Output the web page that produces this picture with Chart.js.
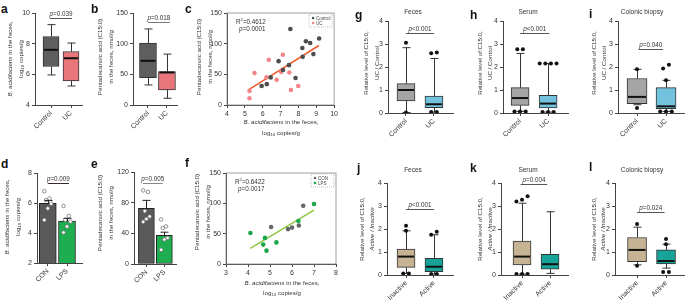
<!DOCTYPE html>
<html>
<head>
<meta charset="utf-8">
<script src="https://cdn.jsdelivr.net/npm/chart.js@4.4.1/dist/chart.umd.min.js"></script>
<style>
  body { margin: 0; background: #fff; width: 685px; height: 302px; position: relative; overflow: hidden;
         font-family: 'Liberation Sans', Arial, sans-serif; color: #333; }
  sub { font-size: 70%; vertical-align: -1px; }
</style>
</head>
<body>
<script>
// ---- data ----
const groupsUC = ['Control', 'UC'];
const groupsLPS = ['CON', 'LPS'];
const groupsAct = ['Inactive', 'Active'];

// box plots: [min, q1, median, q3, max]
const aControl = [5.96, 6.51, 7.6, 8.47, 9.24];
const aUC = [5.24, 5.57, 7.05, 7.49, 8.04];
const bControl = [32.7, 44.7, 72, 101, 124];
const bUC = [11, 24.5, 53, 54.5, 83];

const gControl = [0.02, 0.53, 1.0, 1.28, 2.84];
const gUC = [0.04, 0.23, 0.38, 0.74, 2.37];
const gControlOut = [3.05, 0.02];
const gUCOut = [2.6, 2.63, 0.04, 0.04];

const hControl = [0.07, 0.33, 0.65, 1.1, 2.59];
const hUC = [0.04, 0.22, 0.41, 0.77, 2.15];
const hControlOut = [2.77, 2.77, 0.07, 0.07, 0.07];
const hUCOut = [2.15, 2.15, 2.15, 2.15, 0.04, 0.04, 0.04];

const iControl = [0.36, 0.41, 0.7, 1.5, 1.9];
const iUC = [0.07, 0.19, 0.29, 1.1, 1.42];
const iControlOut = [1.9, 0.22];
const iUCOut = [1.42, 1.93, 2.1, 0.07, 0.07, 0.07];

const jInactive = [0.07, 0.33, 0.8, 1.13, 1.92];
const jActive = [0.04, 0.15, 0.36, 0.73, 1.75];
const jInactiveOut = [1.92, 2.14, 0.07, 0.07];
const jActiveOut = [1.75, 1.88, 0.04, 0.04];

const kInactive = [0.04, 0.44, 0.8, 1.48, 3.12];
const kActive = [0.07, 0.25, 0.47, 0.9, 2.75];
const kInactiveOut = [3.2, 3.27, 3.42, 0.04, 0.04, 0.04];
const kActiveOut = [];

const lInactive = [0.44, 0.58, 1.09, 1.63, 2.08];
const lActive = [0.3, 0.48, 0.61, 1.09, 1.34];
const lInactiveOut = [2.22, 0.4];
const lActiveOut = [1.34, 1.57, 0.13, 0.13];

// scatter c
const cControlX = [7.55, 8.42, 8.66, 9.16, 8.22, 8.84, 8.24, 6.89, 7.47, 7.14, 7.84, 6.45, 6.23, 5.94];
const cControlY = [124, 104, 101, 108.5, 93, 83, 78.5, 71.5, 65, 57, 44, 45, 34, 31];
const cUCX = [6.34, 7.13, 5.54, 6.21, 6.78, 7.03, 7.49, 5.26, 5.26, 7.58, 7.99];
const cUCY = [73.6, 82, 52, 45, 41, 54, 53, 23, 11, 24.5, 31];
const cFitX = [5.2, 9.15];
const cFitY = [24.5, 97];

// bars d, e
const dMean = [5.97, 4.8];
const dSem = [0.2, 0.18];
const dCONDots = [6.79, 6.3, 6.19, 5.95, 5.64, 4.87];
const dLPSDots = [5.8, 5.13, 4.87, 4.76, 4.43, 4.03];
const eMean = [72.5, 37.5];
const eSem = [10.5, 4];
const eCONDots = [96, 94, 69, 62, 58.7, 55];
const eLPSDots = [58, 49, 47, 34, 32, 18.5];

// scatter f
const fCONX = [6.51, 6.0, 5.05, 5.82, 6.31];
const fCONY = [96, 60, 61, 57.5, 63.5];
const fLPSX = [7.0, 6.29, 4.11, 4.77, 4.69, 4.84, 5.29];
const fLPSY = [99, 71, 51, 43, 32, 22, 35.6];
const fFitX = [4.1, 7.0];
const fFitY = [25.7, 88.7];

// ---- setup ----
const FONT = "'Liberation Sans', Arial, sans-serif";
Chart.defaults.font.family = FONT;
Chart.defaults.font.size = 7;
Chart.defaults.color = '#333';
const AX = '#444';
const YW = 24, XH = 34, PT = 16, PR = 4;

function ptext(ctx, cx, yb, rest, size) {
  ctx.font = `italic ${size}px ${FONT}`;
  const w1 = ctx.measureText('p').width;
  ctx.font = `${size}px ${FONT}`;
  const w2 = ctx.measureText(rest).width;
  let x0 = cx - (w1 + w2) / 2;
  ctx.textAlign = 'left';
  ctx.font = `italic ${size}px ${FONT}`;
  ctx.fillText('p', x0, yb);
  ctx.font = `${size}px ${FONT}`;
  ctx.fillText(rest, x0 + w1, yb);
}

const deco = {
  id: 'deco',
  beforeDatasetsDraw(chart, args, o) {
    const { ctx, scales: { x, y } } = chart;
    if (!o.boxes) return;
    ctx.save();
    ctx.strokeStyle = '#333';
    ctx.lineWidth = 1;
    o.boxes.forEach((s, i) => {
      const px = Math.round(x.getPixelForValue(i + 1)) + 0.5;
      ctx.beginPath();
      ctx.moveTo(px, y.getPixelForValue(s[3])); ctx.lineTo(px, y.getPixelForValue(s[4]));
      ctx.moveTo(px, y.getPixelForValue(s[1])); ctx.lineTo(px, y.getPixelForValue(s[0]));
      ctx.moveTo(px - 4, y.getPixelForValue(s[4])); ctx.lineTo(px + 4, y.getPixelForValue(s[4]));
      ctx.moveTo(px - 4, y.getPixelForValue(s[0])); ctx.lineTo(px + 4, y.getPixelForValue(s[0]));
      ctx.stroke();
    });
    ctx.restore();
  },
  afterDatasetsDraw(chart, args, o) {
    const { ctx, chartArea, scales: { x, y } } = chart;
    ctx.save();
    ctx.fillStyle = '#333';
    ctx.textBaseline = 'alphabetic';
    if (o.boxes) {
      const bw = chart.data.datasets[0].barThickness;
      ctx.strokeStyle = '#111';
      ctx.lineWidth = 2;
      o.boxes.forEach((s, i) => {
        const px = x.getPixelForValue(i + 1);
        const py = y.getPixelForValue(s[2]);
        ctx.beginPath();
        ctx.moveTo(px - bw / 2 + 1, py); ctx.lineTo(px + bw / 2 - 1, py);
        ctx.stroke();
      });
    }
    if (o.means) {
      ctx.strokeStyle = '#222';
      ctx.lineWidth = 1;
      o.means.forEach((m, i) => {
        const px = Math.round(x.getPixelForValue(i + 1)) + 0.5;
        const top = y.getPixelForValue(m + o.sems[i]);
        ctx.beginPath();
        ctx.moveTo(px, y.getPixelForValue(m)); ctx.lineTo(px, top);
        ctx.moveTo(px - 4, top); ctx.lineTo(px + 4, top);
        ctx.stroke();
      });
    }
    if (o.pval) {
      const p = o.pval;
      const x1 = x.getPixelForValue(p.x1), x2 = x.getPixelForValue(p.x2);
      const py = Math.round(y.getPixelForValue(p.y)) + 0.5;
      ctx.strokeStyle = p.color;
      ctx.lineWidth = 1;
      ctx.beginPath(); ctx.moveTo(x1, py); ctx.lineTo(x2, py); ctx.stroke();
      ctx.fillStyle = '#333';
      ptext(ctx, (x1 + x2) / 2, py - 2.5, p.text, 6.3);
    }
    if (o.frame) {
      ctx.strokeStyle = '#888';
      ctx.lineWidth = 0.8;
      ctx.strokeRect(chartArea.left, chartArea.top, chartArea.width, chartArea.height);
    }
    if (o.legend) {
      const lx = chartArea.right - 25, ly = chartArea.top + 1;
      ctx.setLineDash([1, 1]);
      ctx.strokeStyle = '#999';
      ctx.lineWidth = 0.6;
      ctx.strokeRect(lx, ly, 23, 13);
      ctx.setLineDash([]);
      chart.data.datasets.filter(d => d.label).forEach((d, i) => {
        const yy = ly + 4 + i * 5;
        ctx.fillStyle = d.backgroundColor;
        ctx.beginPath(); ctx.arc(lx + 4, yy, 1.3, 0, Math.PI * 2); ctx.fill();
        ctx.fillStyle = '#444';
        ctx.font = `4.5px ${FONT}`;
        ctx.textAlign = 'left';
        ctx.fillText(d.label, lx + 7, yy + 1.6);
      });
    }
    if (o.stat) {
      const sx = chartArea.left + 9, sy = chartArea.top + 11;
      ctx.fillStyle = '#333';
      ctx.textAlign = 'left';
      ctx.font = `6.3px ${FONT}`;
      ctx.fillText('R', sx, sy);
      const wr = ctx.measureText('R').width;
      ctx.font = `4.2px ${FONT}`;
      ctx.fillText('2', sx + wr, sy - 3);
      const w2 = ctx.measureText('2').width;
      ctx.font = `6.3px ${FONT}`;
      ctx.fillText(o.stat[0], sx + wr + w2, sy);
      ctx.font = `italic 6.3px ${FONT}`;
      ctx.fillText('p', sx + 3, sy + 7);
      const wp = ctx.measureText('p').width;
      ctx.font = `6.3px ${FONT}`;
      ctx.fillText(o.stat[1], sx + 3 + wp, sy + 7);
    }
    ctx.restore();
  }
};
Chart.register(deco);

function makeCanvas(L, R, T, B) {
  const cv = document.createElement('canvas');
  const w = YW + (R - L) + PR, h = PT + (B - T) + XH;
  cv.width = w; cv.height = h;
  cv.style.cssText = `position:absolute;left:${L - YW}px;top:${T - PT}px;width:${w}px;height:${h}px`;
  document.body.appendChild(cv);
  return cv;
}

function yScale(min, max, step) {
  return {
    min, max,
    ticks: { stepSize: step, padding: 2 },
    grid: { drawOnChartArea: false, drawTicks: true, tickLength: 3, color: AX },
    border: { color: AX },
    afterFit: s => { s.width = YW; }
  };
}

function xGroups(min, max, labels) {
  return {
    type: 'linear', min, max, offset: false,
    afterBuildTicks: s => { s.ticks = labels.map((_, i) => ({ value: i + 1 })); },
    ticks: { callback: v => labels[Math.round(v) - 1], minRotation: 45, maxRotation: 45, autoSkip: false, padding: 1, font: { size: 7 } },
    grid: { drawOnChartArea: false, drawTicks: true, tickLength: 3, color: AX, offset: false },
    border: { color: AX },
    afterFit: s => { s.height = XH; }
  };
}

function xLinear(min, max) {
  return {
    type: 'linear', min, max,
    ticks: { stepSize: 1, maxRotation: 0, padding: 2 },
    grid: { drawOnChartArea: false, drawTicks: true, tickLength: 3, color: AX },
    border: { color: AX },
    afterFit: s => { s.height = XH; }
  };
}

// spread outliers that sit at about the same level
function spread(vals, pos) {
  const s = vals.slice().sort((a, b) => a - b);
  const groups = [];
  s.forEach(v => {
    const g = groups[groups.length - 1];
    if (g && v - g[g.length - 1] < 0.2) g.push(v); else groups.push([v]);
  });
  const pts = [];
  groups.forEach(g => g.forEach((v, k) => pts.push({ x: pos + (k - (g.length - 1) / 2) * 0.2, y: v })));
  return pts;
}

const baseOpts = (scales, deco) => ({
  responsive: false,
  animation: false,
  layout: { padding: { top: PT, right: PR, left: 0, bottom: 0 } },
  plugins: { legend: { display: false }, tooltip: { enabled: false }, deco },
  scales
});

function boxPanel(geo, labels, stats, outs, colors, ylim, xlim, bw, pval) {
  const cv = makeCanvas(...geo);
  new Chart(cv, {
    type: 'bar',
    data: {
      datasets: [
        {
          type: 'bar',
          data: stats.map((s, i) => ({ x: i + 1, y: [s[1], s[3]] })),
          backgroundColor: colors,
          borderColor: '#333',
          borderWidth: 1,
          borderSkipped: false,
          barThickness: bw,
          order: 2
        },
        {
          type: 'scatter',
          data: outs.flatMap((o, i) => spread(o, i + 1)),
          pointRadius: 2,
          backgroundColor: '#111',
          borderWidth: 0,
          order: 1
        }
      ]
    },
    options: baseOpts({ x: xGroups(xlim[0], xlim[1], labels), y: yScale(...ylim) }, { boxes: stats, pval })
  });
}

function barPanel(geo, labels, means, sems, dotSets, colors, ylim, xlim, bw, pval) {
  const cv = makeCanvas(...geo);
  const dots = (vals, pos) => vals.map((v, i) => ({ x: pos + ((i * 3) % 5 - 2) * 0.09, y: v }));
  new Chart(cv, {
    type: 'bar',
    data: {
      datasets: [
        {
          type: 'bar',
          data: means.map((m, i) => ({ x: i + 1, y: m })),
          backgroundColor: colors,
          borderColor: '#222',
          borderWidth: 1,
          borderSkipped: false,
          barThickness: bw,
          order: 2
        },
        {
          type: 'scatter',
          data: dotSets.flatMap((d, i) => dots(d, i + 1)),
          pointRadius: 1.8,
          backgroundColor: '#fff',
          borderColor: '#777',
          borderWidth: 0.8,
          order: 1
        }
      ]
    },
    options: baseOpts({ x: xGroups(xlim[0], xlim[1], labels), y: yScale(...ylim) }, { means, sems, pval })
  });
}

function scatterPanel(geo, series, fit, xlim, stat) {
  const cv = makeCanvas(...geo);
  const datasets = series.map(s => ({
    label: s.label,
    data: s.x.map((v, i) => ({ x: v, y: s.y[i] })),
    backgroundColor: s.color,
    pointRadius: 2.3,
    borderWidth: 0,
    order: 1
  }));
  datasets.push({
    data: fit.x.map((v, i) => ({ x: v, y: fit.y[i] })),
    showLine: true,
    borderColor: fit.color,
    borderWidth: 1.5,
    pointRadius: 0,
    order: 2
  });
  new Chart(cv, {
    type: 'scatter',
    data: { datasets },
    options: baseOpts({ x: xLinear(xlim[0], xlim[1]), y: yScale(0, 150, 50) }, { frame: true, legend: true, stat })
  });
}

// ---- panels ----
boxPanel([35, 82, 13, 105], groupsUC, [aControl, aUC], [[], []], ['#5e5e5e', '#e8767b'],
  [4, 10, 2], [0.2, 2.55], 16, { text: '=0.039', x1: 0.95, x2: 2.05, y: 9.7, color: '#555' });
boxPanel([133, 177, 13, 105], groupsUC, [bControl, bUC], [[], []], ['#5e5e5e', '#e8767b'],
  [0, 150, 50], [0.21, 2.53], 17, { text: '=0.018', x1: 1.0, x2: 2.15, y: 135, color: '#777' });
scatterPanel([227, 336, 13, 105],
  [{ label: 'Control', x: cControlX, y: cControlY, color: '#4d4d4d' },
   { label: 'UC', x: cUCX, y: cUCY, color: '#f4868a' }],
  { x: cFitX, y: cFitY, color: '#f15a29' }, [4, 10], ['=0.4612', '=0.0001']);

boxPanel([388, 453, 21, 113], groupsUC, [gControl, gUC], [gControlOut, gUCOut], ['#a5a5a5', '#72c2dd'],
  [0, 4, 1], [0.357, 2.68], 18, { text: '<0.001', x1: 1, x2: 2, y: 3.5, color: '#555' });
boxPanel([503, 568, 21, 113], groupsUC, [hControl, hUC], [hControlOut, hUCOut], ['#a5a5a5', '#72c2dd'],
  [0, 4, 1], [0.39, 2.71], 18, { text: '<0.001', x1: 1, x2: 2.05, y: 3.49, color: '#555' });
boxPanel([618, 684, 21, 113], groupsUC, [iControl, iUC], [iControlOut, iUCOut], ['#a5a5a5', '#72c2dd'],
  [0, 4, 1], [0.345, 2.62], 20, { text: '=0.040', x1: 1.05, x2: 1.9, y: 2.8, color: '#555' });

barPanel([37, 83, 173, 263], groupsLPS, dMean, dSem, [dCONDots, dLPSDots], ['#595959', '#1fae4f'],
  [2, 8, 2], [0.44, 2.79], 17, { text: '=0.009', x1: 1, x2: 2.1, y: 7.34, color: '#3a2a2a' });
barPanel([134, 177, 172, 264], groupsLPS, eMean, eSem, [eCONDots, eLPSDots], ['#595959', '#1fae4f'],
  [0, 120, 40], [0.31, 2.66], 16, { text: '=0.005', x1: 0.8, x2: 1.9, y: 106, color: '#888' });
scatterPanel([226, 336, 173, 264],
  [{ label: 'CON', x: fCONX, y: fCONY, color: '#666666' },
   { label: 'LPS', x: fLPSX, y: fLPSY, color: '#1aa64a' }],
  { x: fFitX, y: fFitY, color: '#8dc63f' }, [3, 8], ['=0.6422', '=0.0017']);

boxPanel([387, 453, 183, 275], groupsAct, [jInactive, jActive], [jInactiveOut, jActiveOut], ['#c5b393', '#17a398'],
  [0, 4, 1], [0.32, 2.68], 18, { text: '<0.001', x1: 1, x2: 2, y: 2.87, color: '#555' });
boxPanel([501, 568, 183, 275], groupsAct, [kInactive, kActive], [kInactiveOut, kActiveOut], ['#c5b393', '#17a398'],
  [0, 4, 1], [0.25, 2.64], 18, { text: '=0.004', x1: 0.95, x2: 1.9, y: 3.96, color: '#555' });
boxPanel([615, 684, 183, 275], groupsAct, [lInactive, lActive], [lInactiveOut, lActiveOut], ['#c5b393', '#17a398'],
  [0, 4, 1], [0.24, 2.62], 19, { text: '=0.024', x1: 1, x2: 1.95, y: 2.72, color: '#555' });

// ---- text ----
function label(cx, cy, html, size, rot) {
  const d = document.createElement('div');
  d.innerHTML = html;
  d.style.cssText = `position:absolute;left:${cx - 100}px;top:${cy - 5}px;width:200px;height:10px;line-height:10px;` +
    `text-align:center;font-size:${size}px;white-space:nowrap;color:#333;${rot ? 'transform:rotate(-90deg);' : ''}`;
  document.body.appendChild(d);
}
function letter(x, base, ch) {
  const d = document.createElement('div');
  d.textContent = ch;
  d.style.cssText = `position:absolute;left:${x}px;top:${base - 10}px;font-size:12px;line-height:12px;font-weight:bold;color:#111`;
  document.body.appendChild(d);
}

const bac = '<i>B. acidifaciens</i> in the feces,';
const logc = 'log<sub>10</sub> copies/g';
const pa1 = 'Pentadecanoic acid (C15:0)';
const pa2 = 'in the feces, nmol/g';
const rl = 'Relative level of C15:0,';

[['a', 1, 13], ['b', 91, 13], ['c', 185, 13], ['g', 355, 19], ['h', 470, 19], ['i', 589, 18],
 ['d', 1, 168], ['e', 91, 168], ['f', 185, 167], ['j', 357, 172], ['k', 470, 172], ['l', 589, 171]]
  .forEach(([c, x, b]) => letter(x, b, c));

label(10, 59, bac, 6.2, true); label(21, 59, logc, 6.2, true);
label(100, 57, pa1, 6.2, true); label(111, 57, pa2, 6.2, true);
label(199, 57, pa1, 6.2, true); label(210, 57, pa2, 6.2, true);
label(366, 63, rl, 6.2, true); label(377, 63, 'UC / Control', 6.2, true);
label(480, 63, rl, 6.2, true); label(490, 63, 'UC / Control', 6.2, true);
label(594, 63, rl, 6.2, true); label(604, 63, 'UC / Control', 6.2, true);

label(7, 217, bac, 6.2, true); label(18, 217, logc, 6.2, true);
label(100, 213, pa1, 6.2, true); label(111, 213, pa2, 6.2, true);
label(197, 212, pa1, 6.2, true); label(208, 212, pa2, 6.2, true);
label(362, 229, rl, 6.2, true); label(372, 229, '<i>Active / Inactive</i>', 6.2, true);
label(480, 229, rl, 6.2, true); label(490, 229, '<i>Active / Inactive</i>', 6.2, true);
label(594, 229, rl, 6.2, true); label(603, 229, '<i>Active / Inactive</i>', 6.2, true);

label(281, 122, bac, 6.2); label(281, 133, logc, 6.2);
label(282, 283, bac, 6.2); label(282, 293, logc, 6.2);

label(413, 12, 'Feces', 6.5); label(528, 12, 'Serum', 6.5); label(642, 12, 'Colonic biopsy', 6.5);
label(413, 170, 'Feces', 6.5); label(528, 170, 'Serum', 6.5); label(642, 170, 'Colonic biopsy', 6.5);
</script>
</body>
</html>
